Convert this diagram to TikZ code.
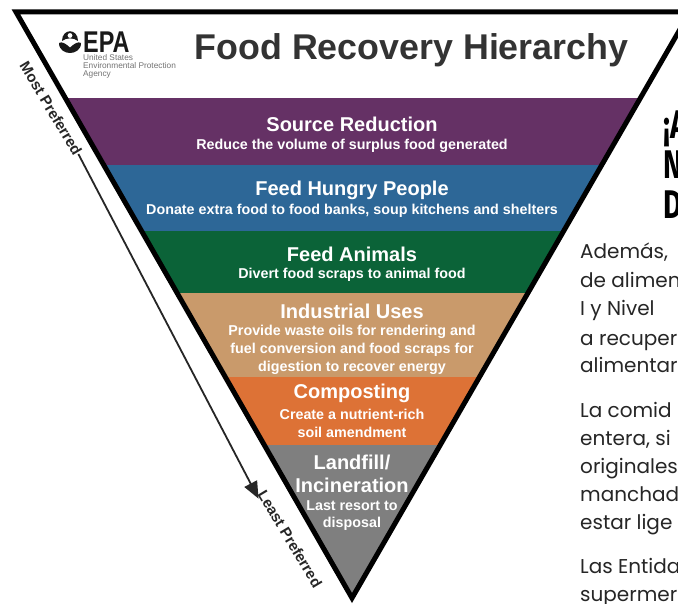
\documentclass[tikz,border=0pt]{standalone}
\usepackage{fontspec}
\usetikzlibrary{arrows.meta}
\setmainfont{Liberation Sans}
\newfontfamily\bodyfont{Poppins}
\newfontfamily\headfont{Fira Sans}
\definecolor{cpurple}{HTML}{653165}
\definecolor{cblue}{HTML}{2D6797}
\definecolor{cgreen}{HTML}{0B6338}
\definecolor{ctan}{HTML}{C99A6B}
\definecolor{corange}{HTML}{DD7236}
\definecolor{cgray}{HTML}{7F7F7F}
\definecolor{ctitle}{HTML}{333333}
\tikzset{
  big/.style={text=white,font=\fontsize{20}{20}\selectfont\bfseries,inner sep=0pt},
  small/.style={text=white,font=\fontsize{14.3}{14.3}\selectfont\bfseries,inner sep=0pt},
  side/.style={text=black!85,font=\fontsize{15}{15}\selectfont\bfseries,inner sep=0pt,rotate=-59},
  body/.style={anchor=base west,inner sep=0pt,font=\bodyfont\fontsize{20}{20}\selectfont,text=black!85},
  heading/.style={anchor=base west,inner sep=0pt,font=\headfont\bfseries\fontsize{40}{40}\selectfont,xscale=.72,text=black},
  eparule/.style={anchor=base west,inner sep=0pt,text=black!55,font=\fontsize{8.3}{8.3}\selectfont}
}
\begin{document}
\begin{tikzpicture}[x=1pt,y=-1pt]
\useasboundingbox (0,0) rectangle (678,604);
\fill[white] (0,0) rectangle (678,604);
% bands, clipped to the triangle
\begin{scope}
\clip (14,12) -- (690,12) -- (352,602) -- cycle;
\fill[cpurple] (0,98.5) rectangle (678,165);
\fill[cblue] (0,165) rectangle (678,231);
\fill[cgreen] (0,231) rectangle (678,293);
\fill[ctan] (0,293) rectangle (678,377);
\fill[corange] (0,377) rectangle (678,445);
\fill[cgray] (0,445) rectangle (678,604);
\end{scope}
% outline
\begin{scope}
\clip (0,0) rectangle (678,604);
\draw[line width=5pt,line join=miter] (16,12) -- (690,12) -- (352,598) -- cycle;
\end{scope}
% logo
\fill[black!90] (62,41) .. controls (62,28) and (78,28) .. (78,41) .. controls (74,37.5) and (66,37.5) .. cycle;
\fill[white] (70,35.5) circle (2.4);
\fill[black!90] (59,43) .. controls (62,41) and (66,44) .. (70,47.5) .. controls (74,44) and (78,41) .. (81,43) .. controls (81,50) and (75,53) .. (70,53) .. controls (65,53) and (59,50) .. (59,43) -- cycle;
\node[anchor=base west,inner sep=0pt,text=black!90,font=\fontsize{30}{30}\selectfont\bfseries,xscale=.78] (epa) at (83,53) {EPA};
\node[eparule] (epa1) at (83,60.5) {United States};
\node[eparule] (epa2) at (83,68.5) {Environmental Protection};
\node[eparule] (epa3) at (83,76.5) {Agency};
% title
\node[text=ctitle,inner sep=0pt,font=\fontsize{35.8}{35.8}\selectfont\bfseries] (title) at (411.5,50) {Food Recovery Hierarchy};
% band text
\node[big] (s1) at (352,124) {Source Reduction};
\node[small] (s2) at (352,145.5) {Reduce the volume of surplus food generated};
\node[big] (h1) at (352,190) {Feed Hungry People};
\node[small] (h2) at (352,210.5) {Donate extra food to food banks, soup kitchens and shelters};
\node[big] (a1) at (352,254) {Feed Animals};
\node[small] (a2) at (352,274.5) {Divert food scraps to animal food};
\node[big] (i1) at (352,311) {Industrial Uses};
\node[small] (i2) at (352,332) {Provide waste oils for rendering and};
\node[small] (i3) at (352,350) {fuel conversion and food scraps for};
\node[small] (i4) at (352,368) {digestion to recover energy};
\node[big] (c1) at (352,393) {Composting};
\node[small] (c2) at (352,414) {Create a nutrient-rich};
\node[small] (c3) at (352,432) {soil amendment};
\node[big] (l1) at (352,462) {Landfill/};
\node[big] (l2) at (352,485) {Incineration};
\node[small] (l3) at (352,506) {Last resort to};
\node[small] (l4) at (352,524) {disposal};
% preference arrow
\node[side] (most) at (51,108.5) {Most Preferred};
\node[side] (least) at (290,539) {Least Preferred};
\draw[black!85,line width=1.8pt,-{Triangle[length=17pt,width=14pt]}] (most.east) -- ([xshift=-3pt,yshift=-7pt]least.west);
% cropped page text on the right
\begin{scope}
\clip (560,90) rectangle (678,604);
\node[heading] (n1) at (663,139) {¡A};
\node[heading] (n2) at (663,179) {N};
\node[heading] (n3) at (663,219) {D};
\node[body] (b1) at (580,259) {Además,};
\node[body] (b2) at (580,288) {de alimen};
\node[body] (b3) at (580,316) {I y Nivel};
\node[body] (b4) at (580,345) {a recuper};
\node[body] (b5) at (580,373) {alimentar};
\node[body] (b6) at (580,417) {La comid};
\node[body] (b7) at (580,445) {entera, si};
\node[body] (b8) at (580,473) {originales};
\node[body] (b9) at (580,501) {manchad};
\node[body] (b10) at (580,529) {estar lige};
\node[body] (b11) at (580,573) {Las Entida};
\node[body] (b12) at (580,601) {supermer};
\end{scope}
\end{tikzpicture}
\end{document}
